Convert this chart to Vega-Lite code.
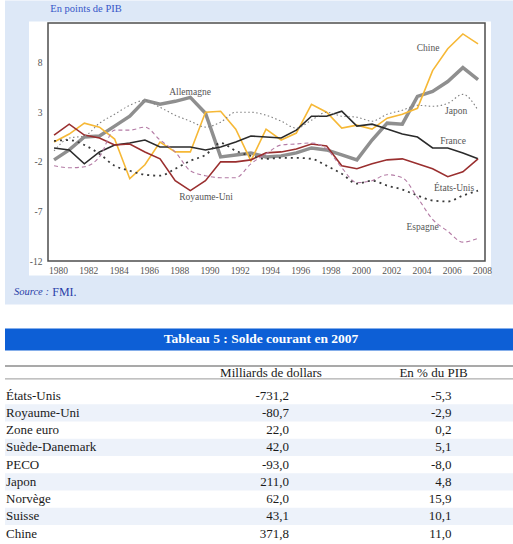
{
  "$schema": "https://vega.github.io/schema/vega-lite/v6.json",
  "padding": {"left": 4, "top": 0, "right": 30, "bottom": 0},
  "background": "white",
  "spacing": 0,
  "bounds": "flush",
  "config": {
    "view": {"stroke": null},
    "font": "Liberation Serif",
    "locale": {"number": {"decimal": ",", "thousands": "\u00a0", "grouping": [3], "currency": ["", "\u00a0€"], "minus": "-"}}
  },
  "resolve": {"scale": {"x": "independent", "y": "independent", "color": "independent"}},
  "datasets": {
    "solde": [
      {"annee": 1980, "Allemagne": -1.8, "Chine": 0.0, "Japon": -0.9, "France": -0.6, "Royaume-Uni": 0.7, "États-Unis": 0.1, "Espagne": -2.4},
      {"annee": 1981, "Allemagne": -0.8, "Chine": 0.8, "Japon": 0.4, "France": -0.8, "Royaume-Uni": 1.8, "États-Unis": 0.2, "Espagne": -2.6},
      {"annee": 1982, "Allemagne": 0.5, "Chine": 1.9, "Japon": 0.6, "France": -2.2, "Royaume-Uni": 0.7, "États-Unis": -0.3, "Espagne": -2.5},
      {"annee": 1983, "Allemagne": 0.6, "Chine": 1.5, "Japon": 1.9, "France": -1.0, "Royaume-Uni": 0.4, "États-Unis": -1.2, "Espagne": -1.5},
      {"annee": 1984, "Allemagne": 1.6, "Chine": 0.3, "Japon": 2.8, "France": -0.3, "Royaume-Uni": -0.3, "États-Unis": -2.4, "Espagne": 1.2},
      {"annee": 1985, "Allemagne": 2.6, "Chine": -3.7, "Japon": 3.7, "France": -0.1, "Royaume-Uni": -0.2, "États-Unis": -2.9, "Espagne": 1.2},
      {"annee": 1986, "Allemagne": 4.2, "Chine": -2.3, "Japon": 4.2, "France": 0.2, "Royaume-Uni": -1.0, "États-Unis": -3.3, "Espagne": 1.5},
      {"annee": 1987, "Allemagne": 3.8, "Chine": 0.0, "Japon": 3.5, "France": -0.5, "Royaume-Uni": -1.7, "États-Unis": -3.4, "Espagne": 0.2},
      {"annee": 1988, "Allemagne": 4.1, "Chine": -1.0, "Japon": 2.7, "France": -0.5, "Royaume-Uni": -3.9, "États-Unis": -2.7, "Espagne": -1.0},
      {"annee": 1989, "Allemagne": 4.5, "Chine": -1.0, "Japon": 2.1, "France": -0.5, "Royaume-Uni": -4.9, "États-Unis": -1.9, "Espagne": -2.9},
      {"annee": 1990, "Allemagne": 2.9, "Chine": 3.0, "Japon": 1.5, "France": -0.8, "Royaume-Uni": -3.9, "États-Unis": -1.3, "Espagne": -3.4},
      {"annee": 1991, "Allemagne": -1.5, "Chine": 3.1, "Japon": 2.0, "France": -0.5, "Royaume-Uni": -2.0, "États-Unis": -0.1, "Espagne": -3.6},
      {"annee": 1992, "Allemagne": -1.3, "Chine": 1.3, "Japon": 3.0, "France": 0.0, "Royaume-Uni": -2.0, "États-Unis": -0.9, "Espagne": -3.6},
      {"annee": 1993, "Allemagne": -1.1, "Chine": -1.9, "Japon": 3.0, "France": 0.6, "Royaume-Uni": -1.8, "États-Unis": -1.4, "Espagne": -2.2},
      {"annee": 1994, "Allemagne": -1.5, "Chine": 1.3, "Japon": 2.7, "France": 0.5, "Royaume-Uni": -1.1, "États-Unis": -1.7, "Espagne": -1.2},
      {"annee": 1995, "Allemagne": -1.4, "Chine": 0.2, "Japon": 2.1, "France": 0.4, "Royaume-Uni": -1.0, "États-Unis": -1.6, "Espagne": -0.3},
      {"annee": 1996, "Allemagne": -1.1, "Chine": 0.9, "Japon": 1.4, "France": 1.2, "Royaume-Uni": -0.7, "États-Unis": -1.6, "Espagne": -0.2},
      {"annee": 1997, "Allemagne": -0.6, "Chine": 3.8, "Japon": 2.2, "France": 2.6, "Royaume-Uni": -0.2, "États-Unis": -1.7, "Espagne": -0.1},
      {"annee": 1998, "Allemagne": -0.8, "Chine": 3.0, "Japon": 3.0, "France": 2.6, "Royaume-Uni": -0.4, "États-Unis": -2.4, "Espagne": -0.7},
      {"annee": 1999, "Allemagne": -1.3, "Chine": 1.4, "Japon": 2.6, "France": 3.1, "Royaume-Uni": -2.4, "États-Unis": -3.2, "Espagne": -2.6},
      {"annee": 2000, "Allemagne": -1.8, "Chine": 1.7, "Japon": 2.5, "France": 1.6, "Royaume-Uni": -2.7, "États-Unis": -4.2, "Espagne": -4.1},
      {"annee": 2001, "Allemagne": 0.2, "Chine": 1.3, "Japon": 2.1, "France": 1.8, "Royaume-Uni": -2.2, "États-Unis": -3.9, "Espagne": -3.9},
      {"annee": 2002, "Allemagne": 1.9, "Chine": 2.4, "Japon": 2.8, "France": 1.3, "Royaume-Uni": -1.8, "États-Unis": -4.4, "Espagne": -3.3},
      {"annee": 2003, "Allemagne": 1.8, "Chine": 2.8, "Japon": 3.2, "France": 0.8, "Royaume-Uni": -1.7, "États-Unis": -4.8, "Espagne": -3.6},
      {"annee": 2004, "Allemagne": 4.6, "Chine": 3.4, "Japon": 3.7, "France": 0.5, "Royaume-Uni": -2.2, "États-Unis": -5.4, "Espagne": -5.6},
      {"annee": 2005, "Allemagne": 5.1, "Chine": 7.2, "Japon": 3.6, "France": -0.6, "Royaume-Uni": -2.7, "États-Unis": -5.9, "Espagne": -7.8},
      {"annee": 2006, "Allemagne": 6.1, "Chine": 9.4, "Japon": 3.9, "France": -0.6, "Royaume-Uni": -3.5, "États-Unis": -6.0, "Espagne": -9.0},
      {"annee": 2007, "Allemagne": 7.5, "Chine": 10.9, "Japon": 4.8, "France": -1.1, "Royaume-Uni": -3.0, "États-Unis": -5.4, "Espagne": -10.1},
      {"annee": 2008, "Allemagne": 6.3, "Chine": 9.9, "Japon": 3.2, "France": -1.7, "Royaume-Uni": -1.7, "États-Unis": -4.9, "Espagne": -9.7}
    ],
    "etiquettes": [
      {"nom": "Allemagne", "annee": 1988.98, "valeur": 5.08},
      {"nom": "Royaume-Uni", "annee": 1990.04, "valeur": -5.52},
      {"nom": "Chine", "annee": 2004.7, "valeur": 9.51},
      {"nom": "Japon", "annee": 2006.55, "valeur": 3.14},
      {"nom": "France", "annee": 2006.35, "valeur": 0.11},
      {"nom": "États-Unis", "annee": 2006.42, "valeur": -4.59},
      {"nom": "Espagne", "annee": 2004.34, "valeur": -8.62}
    ],
    "tableau": [
      {"pays": "États-Unis", "milliards": -731.2, "pct": -5.3},
      {"pays": "Royaume-Uni", "milliards": -80.7, "pct": -2.9},
      {"pays": "Zone euro", "milliards": 22.0, "pct": 0.2},
      {"pays": "Suède-Danemark", "milliards": 42.0, "pct": 5.1},
      {"pays": "PECO", "milliards": -93.0, "pct": -8.0},
      {"pays": "Japon", "milliards": 211.0, "pct": 4.8},
      {"pays": "Norvège", "milliards": 62.0, "pct": 15.9},
      {"pays": "Suisse", "milliards": 43.1, "pct": 10.1},
      {"pays": "Chine", "milliards": 371.8, "pct": 11.0}
    ]
  },
  "vconcat": [
    {
      "width": 437,
      "height": 238,
      "layer": [
        {
          "data": {"values": [{}]},
          "mark": {"type": "rect", "fill": "#dde8f7"},
          "encoding": {
            "x": {"datum": 1976.76, "type": "quantitative", "scale": {"domain": [1979.6, 2008.46], "nice": false, "zero": false},
              "axis": {"values": [1980, 1982, 1984, 1986, 1988, 1990, 1992, 1994, 1996, 1998, 2000, 2002, 2004, 2006, 2008], "format": "d", "title": null, "ticks": false, "domain": false, "grid": false, "labelFont": "Liberation Serif", "labelFontSize": 9.5, "labelColor": "#555555", "labelPadding": 4, "labelOffset": 4, "labelFlush": false, "labelOverlap": false, "zindex": 2}},
            "x2": {"datum": 2013.5},
            "y": {"datum": -16.38, "type": "quantitative", "scale": {"domain": [-12, 12], "nice": false, "zero": false},
              "axis": {"values": [-12, -7, -2, 3, 8], "title": null, "ticks": false, "domain": false, "grid": false, "labelFont": "Liberation Serif", "labelFontSize": 9.5, "labelColor": "#555555", "labelPadding": 6, "labelFlush": false, "zindex": 2}},
            "y2": {"datum": 14.28}
          }
        },
        {
          "data": {"values": [{}]},
          "mark": {"type": "rect", "fill": "white"},
          "encoding": {
            "x": {"datum": 1978.345, "type": "quantitative", "scale": {"domain": [1979.6, 2008.46], "nice": false, "zero": false},
              "axis": {"values": [1980, 1982, 1984, 1986, 1988, 1990, 1992, 1994, 1996, 1998, 2000, 2002, 2004, 2006, 2008], "format": "d", "title": null, "ticks": false, "domain": false, "grid": false, "labelFont": "Liberation Serif", "labelFontSize": 9.5, "labelColor": "#555555", "labelPadding": 4, "labelOffset": 4, "labelFlush": false, "labelOverlap": false, "zindex": 2}},
            "x2": {"datum": 2008.857},
            "y": {"datum": -13.45, "type": "quantitative", "scale": {"domain": [-12, 12], "nice": false, "zero": false},
              "axis": {"values": [-12, -7, -2, 3, 8], "title": null, "ticks": false, "domain": false, "grid": false, "labelFont": "Liberation Serif", "labelFontSize": 9.5, "labelColor": "#555555", "labelPadding": 6, "labelFlush": false, "zindex": 2}},
            "y2": {"datum": 12.16}
          }
        },
        {
          "data": {"values": [{}]},
          "mark": {"type": "rect", "fillOpacity": 0, "stroke": "#4d4d4d", "strokeWidth": 1.5},
          "encoding": {
            "x": {"datum": 1979.6, "type": "quantitative", "scale": {"domain": [1979.6, 2008.46], "nice": false, "zero": false},
              "axis": {"values": [1980, 1982, 1984, 1986, 1988, 1990, 1992, 1994, 1996, 1998, 2000, 2002, 2004, 2006, 2008], "format": "d", "title": null, "ticks": false, "domain": false, "grid": false, "labelFont": "Liberation Serif", "labelFontSize": 9.5, "labelColor": "#555555", "labelPadding": 4, "labelOffset": 4, "labelFlush": false, "labelOverlap": false, "zindex": 2}},
            "x2": {"datum": 2008.46},
            "y": {"datum": -12, "type": "quantitative", "scale": {"domain": [-12, 12], "nice": false, "zero": false},
              "axis": {"values": [-12, -7, -2, 3, 8], "title": null, "ticks": false, "domain": false, "grid": false, "labelFont": "Liberation Serif", "labelFontSize": 9.5, "labelColor": "#555555", "labelPadding": 6, "labelFlush": false, "zindex": 2}},
            "y2": {"datum": 12}
          }
        },
        {
          "data": {"name": "solde"},
          "transform": [
            {"fold": ["Allemagne", "Chine", "Japon", "France", "Royaume-Uni", "États-Unis", "Espagne"], "as": ["pays", "valeur"]},
            {"filter": {"field": "pays", "equal": "Allemagne"}}
          ],
          "mark": {"type": "line", "strokeWidth": 3.5},
          "encoding": {
            "x": {"field": "annee", "type": "quantitative", "scale": {"domain": [1979.6, 2008.46], "nice": false, "zero": false},
              "axis": {"values": [1980, 1982, 1984, 1986, 1988, 1990, 1992, 1994, 1996, 1998, 2000, 2002, 2004, 2006, 2008], "format": "d", "title": null, "ticks": false, "domain": false, "grid": false, "labelFont": "Liberation Serif", "labelFontSize": 9.5, "labelColor": "#555555", "labelPadding": 4, "labelOffset": 4, "labelFlush": false, "labelOverlap": false, "zindex": 2}},
            "y": {"field": "valeur", "type": "quantitative", "scale": {"domain": [-12, 12], "nice": false, "zero": false},
              "axis": {"values": [-12, -7, -2, 3, 8], "title": null, "ticks": false, "domain": false, "grid": false, "labelFont": "Liberation Serif", "labelFontSize": 9.5, "labelColor": "#555555", "labelPadding": 6, "labelFlush": false, "zindex": 2}},
            "color": {"field": "pays", "type": "nominal", "legend": null,
              "scale": {"domain": ["Allemagne", "Chine", "Japon", "France", "Royaume-Uni", "États-Unis", "Espagne"], "range": ["#8f8f8f", "#f6b836", "#808080", "#2b2b2b", "#9a2f2f", "#3a3a3a", "#b47ba5"]}}
          }
        },
        {
          "data": {"name": "solde"},
          "transform": [
            {"fold": ["Allemagne", "Chine", "Japon", "France", "Royaume-Uni", "États-Unis", "Espagne"], "as": ["pays", "valeur"]},
            {"filter": {"field": "pays", "oneOf": ["Chine", "France", "Royaume-Uni"]}}
          ],
          "mark": {"type": "line", "strokeWidth": 1.6},
          "encoding": {
            "x": {"field": "annee", "type": "quantitative", "scale": {"domain": [1979.6, 2008.46], "nice": false, "zero": false},
              "axis": {"values": [1980, 1982, 1984, 1986, 1988, 1990, 1992, 1994, 1996, 1998, 2000, 2002, 2004, 2006, 2008], "format": "d", "title": null, "ticks": false, "domain": false, "grid": false, "labelFont": "Liberation Serif", "labelFontSize": 9.5, "labelColor": "#555555", "labelPadding": 4, "labelOffset": 4, "labelFlush": false, "labelOverlap": false, "zindex": 2}},
            "y": {"field": "valeur", "type": "quantitative", "scale": {"domain": [-12, 12], "nice": false, "zero": false},
              "axis": {"values": [-12, -7, -2, 3, 8], "title": null, "ticks": false, "domain": false, "grid": false, "labelFont": "Liberation Serif", "labelFontSize": 9.5, "labelColor": "#555555", "labelPadding": 6, "labelFlush": false, "zindex": 2}},
            "color": {"field": "pays", "type": "nominal", "legend": null,
              "scale": {"domain": ["Allemagne", "Chine", "Japon", "France", "Royaume-Uni", "États-Unis", "Espagne"], "range": ["#8f8f8f", "#f6b836", "#808080", "#2b2b2b", "#9a2f2f", "#3a3a3a", "#b47ba5"]}}
          }
        },
        {
          "data": {"name": "solde"},
          "transform": [
            {"fold": ["Allemagne", "Chine", "Japon", "France", "Royaume-Uni", "États-Unis", "Espagne"], "as": ["pays", "valeur"]},
            {"filter": {"field": "pays", "oneOf": ["Japon", "Espagne"]}}
          ],
          "mark": {"type": "line", "strokeWidth": 1.1, "interpolate": "monotone"},
          "encoding": {
            "x": {"field": "annee", "type": "quantitative", "scale": {"domain": [1979.6, 2008.46], "nice": false, "zero": false},
              "axis": {"values": [1980, 1982, 1984, 1986, 1988, 1990, 1992, 1994, 1996, 1998, 2000, 2002, 2004, 2006, 2008], "format": "d", "title": null, "ticks": false, "domain": false, "grid": false, "labelFont": "Liberation Serif", "labelFontSize": 9.5, "labelColor": "#555555", "labelPadding": 4, "labelOffset": 4, "labelFlush": false, "labelOverlap": false, "zindex": 2}},
            "y": {"field": "valeur", "type": "quantitative", "scale": {"domain": [-12, 12], "nice": false, "zero": false},
              "axis": {"values": [-12, -7, -2, 3, 8], "title": null, "ticks": false, "domain": false, "grid": false, "labelFont": "Liberation Serif", "labelFontSize": 9.5, "labelColor": "#555555", "labelPadding": 6, "labelFlush": false, "zindex": 2}},
            "color": {"field": "pays", "type": "nominal", "legend": null,
              "scale": {"domain": ["Allemagne", "Chine", "Japon", "France", "Royaume-Uni", "États-Unis", "Espagne"], "range": ["#8f8f8f", "#f6b836", "#808080", "#2b2b2b", "#9a2f2f", "#3a3a3a", "#b47ba5"]}},
            "strokeDash": {"field": "pays", "type": "nominal", "legend": null,
              "scale": {"domain": ["Japon", "Espagne"], "range": [[1.5, 2.5], [4, 3]]}}
          }
        },
        {
          "data": {"name": "solde"},
          "transform": [
            {"fold": ["Allemagne", "Chine", "Japon", "France", "Royaume-Uni", "États-Unis", "Espagne"], "as": ["pays", "valeur"]},
            {"filter": {"field": "pays", "equal": "États-Unis"}}
          ],
          "mark": {"type": "line", "strokeWidth": 1.8, "strokeDash": [2, 4], "interpolate": "monotone"},
          "encoding": {
            "x": {"field": "annee", "type": "quantitative", "scale": {"domain": [1979.6, 2008.46], "nice": false, "zero": false},
              "axis": {"values": [1980, 1982, 1984, 1986, 1988, 1990, 1992, 1994, 1996, 1998, 2000, 2002, 2004, 2006, 2008], "format": "d", "title": null, "ticks": false, "domain": false, "grid": false, "labelFont": "Liberation Serif", "labelFontSize": 9.5, "labelColor": "#555555", "labelPadding": 4, "labelOffset": 4, "labelFlush": false, "labelOverlap": false, "zindex": 2}},
            "y": {"field": "valeur", "type": "quantitative", "scale": {"domain": [-12, 12], "nice": false, "zero": false},
              "axis": {"values": [-12, -7, -2, 3, 8], "title": null, "ticks": false, "domain": false, "grid": false, "labelFont": "Liberation Serif", "labelFontSize": 9.5, "labelColor": "#555555", "labelPadding": 6, "labelFlush": false, "zindex": 2}},
            "color": {"field": "pays", "type": "nominal", "legend": null,
              "scale": {"domain": ["Allemagne", "Chine", "Japon", "France", "Royaume-Uni", "États-Unis", "Espagne"], "range": ["#8f8f8f", "#f6b836", "#808080", "#2b2b2b", "#9a2f2f", "#3a3a3a", "#b47ba5"]}}
          }
        },
        {
          "data": {"name": "etiquettes"},
          "mark": {"type": "text", "font": "Liberation Serif", "fontSize": 9.5, "color": "#555555", "align": "center", "baseline": "middle"},
          "encoding": {
            "x": {"field": "annee", "type": "quantitative", "scale": {"domain": [1979.6, 2008.46], "nice": false, "zero": false},
              "axis": {"values": [1980, 1982, 1984, 1986, 1988, 1990, 1992, 1994, 1996, 1998, 2000, 2002, 2004, 2006, 2008], "format": "d", "title": null, "ticks": false, "domain": false, "grid": false, "labelFont": "Liberation Serif", "labelFontSize": 9.5, "labelColor": "#555555", "labelPadding": 4, "labelOffset": 4, "labelFlush": false, "labelOverlap": false, "zindex": 2}},
            "y": {"field": "valeur", "type": "quantitative", "scale": {"domain": [-12, 12], "nice": false, "zero": false},
              "axis": {"values": [-12, -7, -2, 3, 8], "title": null, "ticks": false, "domain": false, "grid": false, "labelFont": "Liberation Serif", "labelFontSize": 9.5, "labelColor": "#555555", "labelPadding": 6, "labelFlush": false, "zindex": 2}},
            "text": {"field": "nom"}
          }
        },
        {
          "data": {"values": [{}]},
          "mark": {"type": "text", "text": "En points de PIB", "font": "Liberation Serif", "fontSize": 10.5, "color": "#3656c8", "align": "left", "baseline": "middle"},
          "encoding": {
            "x": {"datum": 1979.75, "type": "quantitative", "scale": {"domain": [1979.6, 2008.46], "nice": false, "zero": false},
              "axis": {"values": [1980, 1982, 1984, 1986, 1988, 1990, 1992, 1994, 1996, 1998, 2000, 2002, 2004, 2006, 2008], "format": "d", "title": null, "ticks": false, "domain": false, "grid": false, "labelFont": "Liberation Serif", "labelFontSize": 9.5, "labelColor": "#555555", "labelPadding": 4, "labelOffset": 4, "labelFlush": false, "labelOverlap": false, "zindex": 2}},
            "y": {"datum": 13.37, "type": "quantitative", "scale": {"domain": [-12, 12], "nice": false, "zero": false},
              "axis": {"values": [-12, -7, -2, 3, 8], "title": null, "ticks": false, "domain": false, "grid": false, "labelFont": "Liberation Serif", "labelFontSize": 9.5, "labelColor": "#555555", "labelPadding": 6, "labelFlush": false, "zindex": 2}}
          }
        },
        {
          "data": {"values": [{}]},
          "mark": {"type": "text", "text": "Source :", "font": "Liberation Serif", "fontStyle": "italic", "fontSize": 10.5, "color": "#2a3fa8", "align": "left", "baseline": "middle"},
          "encoding": {
            "x": {"datum": 1977.355, "type": "quantitative", "scale": {"domain": [1979.6, 2008.46], "nice": false, "zero": false},
              "axis": {"values": [1980, 1982, 1984, 1986, 1988, 1990, 1992, 1994, 1996, 1998, 2000, 2002, 2004, 2006, 2008], "format": "d", "title": null, "ticks": false, "domain": false, "grid": false, "labelFont": "Liberation Serif", "labelFontSize": 9.5, "labelColor": "#555555", "labelPadding": 4, "labelOffset": 4, "labelFlush": false, "labelOverlap": false, "zindex": 2}},
            "y": {"datum": -15.14, "type": "quantitative", "scale": {"domain": [-12, 12], "nice": false, "zero": false},
              "axis": {"values": [-12, -7, -2, 3, 8], "title": null, "ticks": false, "domain": false, "grid": false, "labelFont": "Liberation Serif", "labelFontSize": 9.5, "labelColor": "#555555", "labelPadding": 6, "labelFlush": false, "zindex": 2}}
          }
        },
        {
          "data": {"values": [{}]},
          "mark": {"type": "text", "text": "FMI.", "font": "Liberation Serif", "fontSize": 12, "color": "#2a3fa8", "align": "left", "baseline": "middle"},
          "encoding": {
            "x": {"datum": 1979.88, "type": "quantitative", "scale": {"domain": [1979.6, 2008.46], "nice": false, "zero": false},
              "axis": {"values": [1980, 1982, 1984, 1986, 1988, 1990, 1992, 1994, 1996, 1998, 2000, 2002, 2004, 2006, 2008], "format": "d", "title": null, "ticks": false, "domain": false, "grid": false, "labelFont": "Liberation Serif", "labelFontSize": 9.5, "labelColor": "#555555", "labelPadding": 4, "labelOffset": 4, "labelFlush": false, "labelOverlap": false, "zindex": 2}},
            "y": {"datum": -15.14, "type": "quantitative", "scale": {"domain": [-12, 12], "nice": false, "zero": false},
              "axis": {"values": [-12, -7, -2, 3, 8], "title": null, "ticks": false, "domain": false, "grid": false, "labelFont": "Liberation Serif", "labelFontSize": 9.5, "labelColor": "#555555", "labelPadding": 6, "labelFlush": false, "zindex": 2}}
          }
        }
      ]
    },
    {
      "width": 474,
      "height": 125.8,
      "layer": [
        {
          "data": {"values": [{}]},
          "mark": {"type": "rect", "fill": "#0d5fd6"},
          "encoding": {
            "x": {"datum": 4, "type": "quantitative", "scale": {"domain": [47, 521], "nice": false, "zero": false}, "axis": null},
            "x2": {"datum": 521},
            "y": {"datum": 328, "type": "quantitative", "scale": {"domain": [260.6, 386.4], "nice": false, "zero": false, "reverse": true}, "axis": null},
            "y2": {"datum": 350}
          }
        },
        {
          "data": {"values": [{}]},
          "mark": {"type": "text", "text": "Tableau 5 : Solde courant en 2007", "font": "Liberation Serif", "fontSize": 13.5, "fontWeight": "bold", "color": "white", "align": "center", "baseline": "middle"},
          "encoding": {
            "x": {"datum": 260, "type": "quantitative", "scale": {"domain": [47, 521], "nice": false, "zero": false}, "axis": null},
            "y": {"datum": 338.5, "type": "quantitative", "scale": {"domain": [260.6, 386.4], "nice": false, "zero": false, "reverse": true}, "axis": null}
          }
        },
        {
          "data": {"values": [{}]},
          "mark": {"type": "rule", "color": "#8c8c8c", "strokeWidth": 1.5},
          "encoding": {
            "x": {"datum": 4, "type": "quantitative", "scale": {"domain": [47, 521], "nice": false, "zero": false}, "axis": null},
            "x2": {"datum": 521},
            "y": {"datum": 365.7, "type": "quantitative", "scale": {"domain": [260.6, 386.4], "nice": false, "zero": false, "reverse": true}, "axis": null}
          }
        },
        {
          "data": {"values": [{}]},
          "mark": {"type": "rule", "color": "#9a9a9a", "strokeWidth": 1},
          "encoding": {
            "x": {"datum": 4, "type": "quantitative", "scale": {"domain": [47, 521], "nice": false, "zero": false}, "axis": null},
            "x2": {"datum": 521},
            "y": {"datum": 378.5, "type": "quantitative", "scale": {"domain": [260.6, 386.4], "nice": false, "zero": false, "reverse": true}, "axis": null}
          }
        },
        {
          "data": {"values": [{}]},
          "mark": {"type": "text", "text": "Milliards de dollars", "font": "Liberation Serif", "fontSize": 13, "color": "#1a1a1a", "align": "center", "baseline": "middle"},
          "encoding": {
            "x": {"datum": 270, "type": "quantitative", "scale": {"domain": [47, 521], "nice": false, "zero": false}, "axis": null},
            "y": {"datum": 372.5, "type": "quantitative", "scale": {"domain": [260.6, 386.4], "nice": false, "zero": false, "reverse": true}, "axis": null}
          }
        },
        {
          "data": {"values": [{}]},
          "mark": {"type": "text", "text": "En % du PIB", "font": "Liberation Serif", "fontSize": 13, "color": "#1a1a1a", "align": "center", "baseline": "middle"},
          "encoding": {
            "x": {"datum": 432.5, "type": "quantitative", "scale": {"domain": [47, 521], "nice": false, "zero": false}, "axis": null},
            "y": {"datum": 372.5, "type": "quantitative", "scale": {"domain": [260.6, 386.4], "nice": false, "zero": false, "reverse": true}, "axis": null}
          }
        }
      ]
    },
    {
      "width": 474,
      "height": 155.25,
      "data": {"name": "tableau"},
      "layer": [
        {
          "transform": [{"filter": {"field": "pays", "oneOf": ["Royaume-Uni", "Suède-Danemark", "Japon", "Suisse"]}}],
          "mark": {"type": "rect", "fill": "#edf2fa"},
          "encoding": {
            "x": {"datum": 4, "type": "quantitative", "scale": {"domain": [47, 521], "nice": false, "zero": false}, "axis": null},
            "x2": {"datum": 521},
            "y": {"field": "pays", "type": "nominal", "axis": null, "scale": {"type": "band", "domain": ["États-Unis", "Royaume-Uni", "Zone euro", "Suède-Danemark", "PECO", "Japon", "Norvège", "Suisse", "Chine"], "paddingInner": 0, "paddingOuter": 0}}
          }
        },
        {
          "mark": {"type": "text", "font": "Liberation Serif", "fontSize": 13, "color": "#1a1a1a", "align": "left", "baseline": "middle"},
          "encoding": {
            "x": {"datum": 5, "type": "quantitative", "scale": {"domain": [47, 521], "nice": false, "zero": false}, "axis": null},
            "y": {"field": "pays", "type": "nominal", "axis": null, "scale": {"type": "band", "domain": ["États-Unis", "Royaume-Uni", "Zone euro", "Suède-Danemark", "PECO", "Japon", "Norvège", "Suisse", "Chine"], "paddingInner": 0, "paddingOuter": 0}},
            "text": {"field": "pays"}
          }
        },
        {
          "mark": {"type": "text", "font": "Liberation Serif", "fontSize": 13, "color": "#1a1a1a", "align": "right", "baseline": "middle"},
          "encoding": {
            "x": {"datum": 288, "type": "quantitative", "scale": {"domain": [47, 521], "nice": false, "zero": false}, "axis": null},
            "y": {"field": "pays", "type": "nominal", "axis": null, "scale": {"type": "band", "domain": ["États-Unis", "Royaume-Uni", "Zone euro", "Suède-Danemark", "PECO", "Japon", "Norvège", "Suisse", "Chine"], "paddingInner": 0, "paddingOuter": 0}},
            "text": {"field": "milliards", "type": "quantitative", "format": ".1f"}
          }
        },
        {
          "mark": {"type": "text", "font": "Liberation Serif", "fontSize": 13, "color": "#1a1a1a", "align": "right", "baseline": "middle"},
          "encoding": {
            "x": {"datum": 450.5, "type": "quantitative", "scale": {"domain": [47, 521], "nice": false, "zero": false}, "axis": null},
            "y": {"field": "pays", "type": "nominal", "axis": null, "scale": {"type": "band", "domain": ["États-Unis", "Royaume-Uni", "Zone euro", "Suède-Danemark", "PECO", "Japon", "Norvège", "Suisse", "Chine"], "paddingInner": 0, "paddingOuter": 0}},
            "text": {"field": "pct", "type": "quantitative", "format": ".1f"}
          }
        }
      ]
    }
  ]
}
